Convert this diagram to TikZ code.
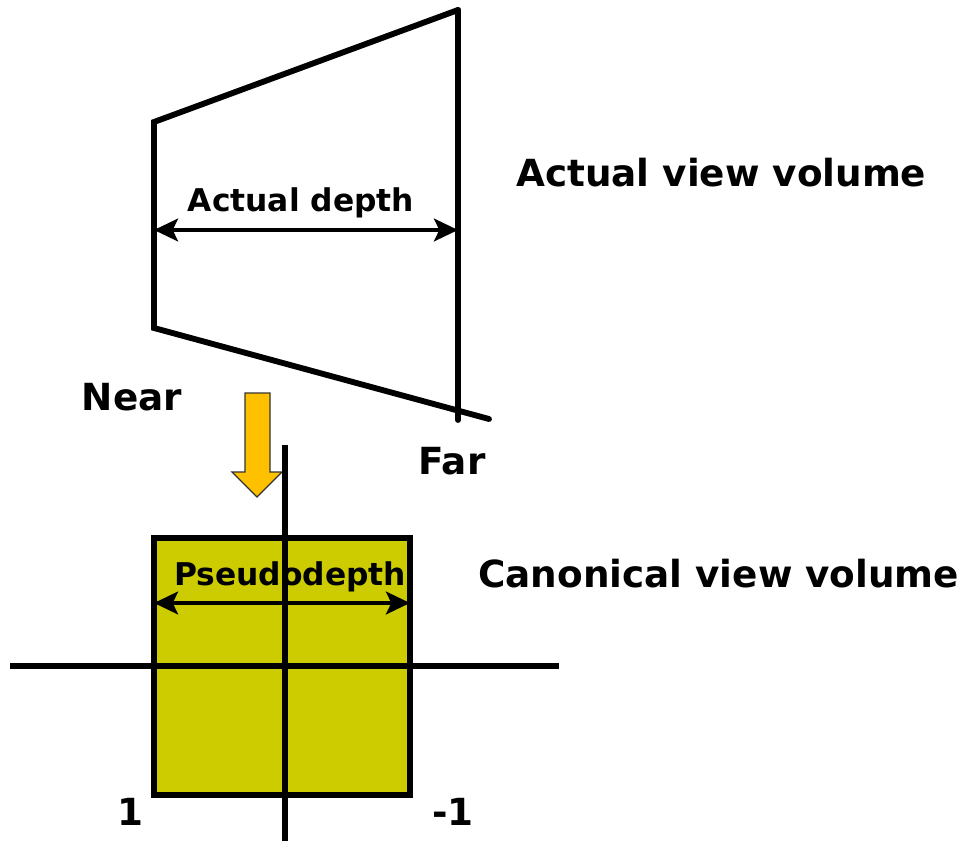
\documentclass[tikz,border=0pt]{standalone}
\usepackage{fontspec}
\setmainfont{DejaVu Sans}
\usetikzlibrary{arrows.meta,positioning}

\definecolor{volfill}{HTML}{CCCC00}
\definecolor{arrowfill}{HTML}{FFC000}

\begin{document}
\begin{tikzpicture}[
  x=0.75pt, y=-0.75pt,
  font=\bfseries,
  edge/.style={line width=4.4pt, line cap=round},
  axis/.style={line width=3.8pt},
  dimarrow/.style={line width=3pt, arrows={Stealth[length=18pt,width=17pt,inset=4pt]-Stealth[length=18pt,width=17pt,inset=4pt]}},
  lbl/.style={inner sep=0pt, font=\fontsize{23.5}{27}\selectfont\bfseries},
  title/.style={inner sep=0pt, anchor=west, font=\fontsize{28}{32}\selectfont\bfseries}
]
\useasboundingbox (0,0) rectangle (959,841);

% actual view volume (frustum)
\coordinate (nearT) at (154,122);
\coordinate (nearB) at (154,328);
\coordinate (farT) at (458,10);
\coordinate (farB) at (458,420);
\coordinate (floorR) at (489,419);
\draw[edge] (farT) -- (nearT) -- (nearB) -- (floorR);
\draw[edge] (farT) -- (farB);

\coordinate (adL) at (154,230);
\coordinate (adR) at (458,230);
\draw[dimarrow] (adL) -- (adR);
\node[lbl] (actdepth) at (301,203) {Actual depth};

\node[title] (actual) at (516,173) {Actual view volume};
\node[title, anchor=center] (near) at (132,397) {Near};
\node[title, anchor=center] (far) at (452,461) {Far};

% transformation arrow
\filldraw[fill=arrowfill, draw=black!80, line width=1pt]
  (245,393) -- (270,393) -- (270,472) -- (282,472) -- (257,497)
  -- (232,472) -- (245,472) -- cycle;

% canonical view volume
\node[draw=black, line width=4.4pt, fill=volfill, minimum width=192pt,
  minimum height=192.75pt, inner sep=0pt, outer sep=0pt] (canon) at (282,666.5) {};

\coordinate (axT) at (285,445);
\coordinate (axB) at (285,841);
\coordinate (axL) at (10,666);
\coordinate (axR) at (559,666);
\draw[axis] (axT) -- (axB);
\draw[axis] (axL) -- (axR);

\draw[dimarrow] (canon.west |- 0,603) -- (canon.east |- 0,603);
\node[lbl] (pseudo) at (290,577) {Pseudodepth};

\node[title] (canonical) at (478,574) {Canonical view volume};
\node[title, anchor=center] (one) at (130,812) {1};
\node[title, anchor=center] (minusone) at (453,812) {-1};

\end{tikzpicture}
\end{document}
